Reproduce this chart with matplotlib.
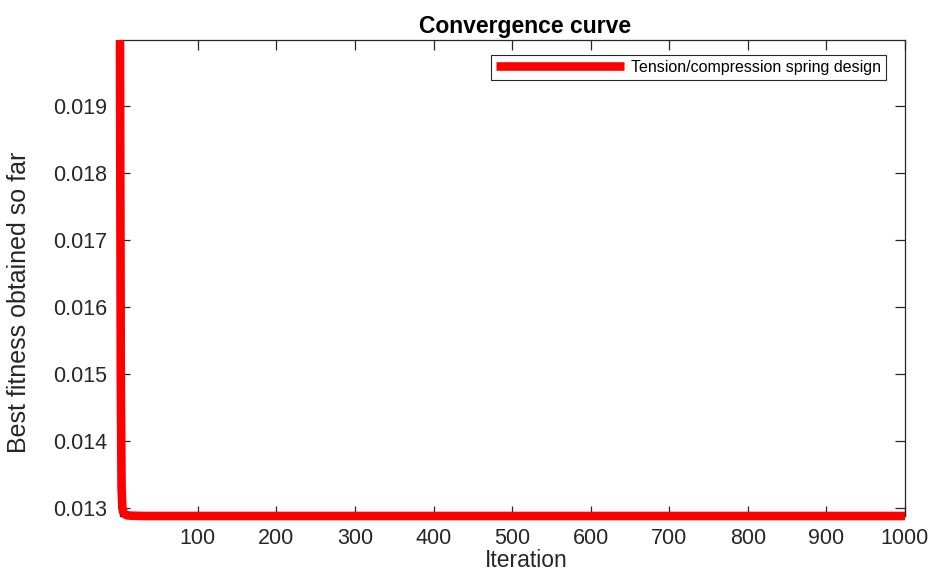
import matplotlib
matplotlib.use("Agg")
import matplotlib.pyplot as plt

plt.rcParams['font.family'] = ['Liberation Sans', 'DejaVu Sans']

# Data (best fitness so far per iteration, breakpoints)
iterations = [1, 2, 3, 4, 5, 6, 8, 10, 15, 30, 1000]
best_fitness = [0.01999, 0.01500, 0.01330, 0.01300, 0.01294, 0.01292,
                0.01290, 0.01289, 0.012885, 0.01288, 0.01288]
series_label = "Tension/compression spring design"
x_ticks = [100, 200, 300, 400, 500, 600, 700, 800, 900, 1000]
y_ticks = [0.013, 0.014, 0.015, 0.016, 0.017, 0.018, 0.019]

fig = plt.figure(figsize=(9.33, 5.71), dpi=100)
ax = fig.add_axes([120/933, 1 - 516/571, 785/933, 476/571])

ax.plot(iterations, best_fitness, color='#ff0000', linewidth=6.2,
        label=series_label, clip_on=False, solid_joinstyle='round',
        solid_capstyle='butt', zorder=5)

ax.set_xlim(1, 1000)
ax.set_ylim(min(best_fitness), max(best_fitness))
ax.set_xticks(x_ticks)
ax.set_xticklabels([str(t) for t in x_ticks])
ax.set_yticks(y_ticks)
ax.set_yticklabels([f"{t:.3f}" for t in y_ticks])

dark = '#262626'
for s in ax.spines.values():
    s.set_color(dark)
    s.set_linewidth(0.9)
ax.tick_params(direction='in', length=7, width=0.9, colors=dark,
               labelsize=15.5, top=True, right=True, pad=9)
ax.tick_params(axis='y', pad=9)

ax.set_title("Convergence curve", fontsize=16.5, fontweight='bold', color='black',
             x=(525-120)/785, y=1.0, pad=5)
ax.set_xlabel("Iteration", fontsize=16.5, color=dark)
ax.xaxis.set_label_coords((526-120)/785, -(549-516)/476)
ax.set_ylabel("Best fitness obtained so far", fontsize=18, color=dark)
ax.yaxis.set_label_coords(-(120-31)/785, (516-302)/476)

leg = ax.legend(loc='upper right', bbox_to_anchor=((886-120)/785, (516-55)/476),
                borderaxespad=0, fontsize=11.5, handlelength=8.0, handletextpad=0.45,
                borderpad=0.3, fancybox=False, framealpha=1, edgecolor=dark)
leg.get_frame().set_linewidth(0.8)
leg.set_zorder(6)

fig.savefig("out.png", dpi=100)
